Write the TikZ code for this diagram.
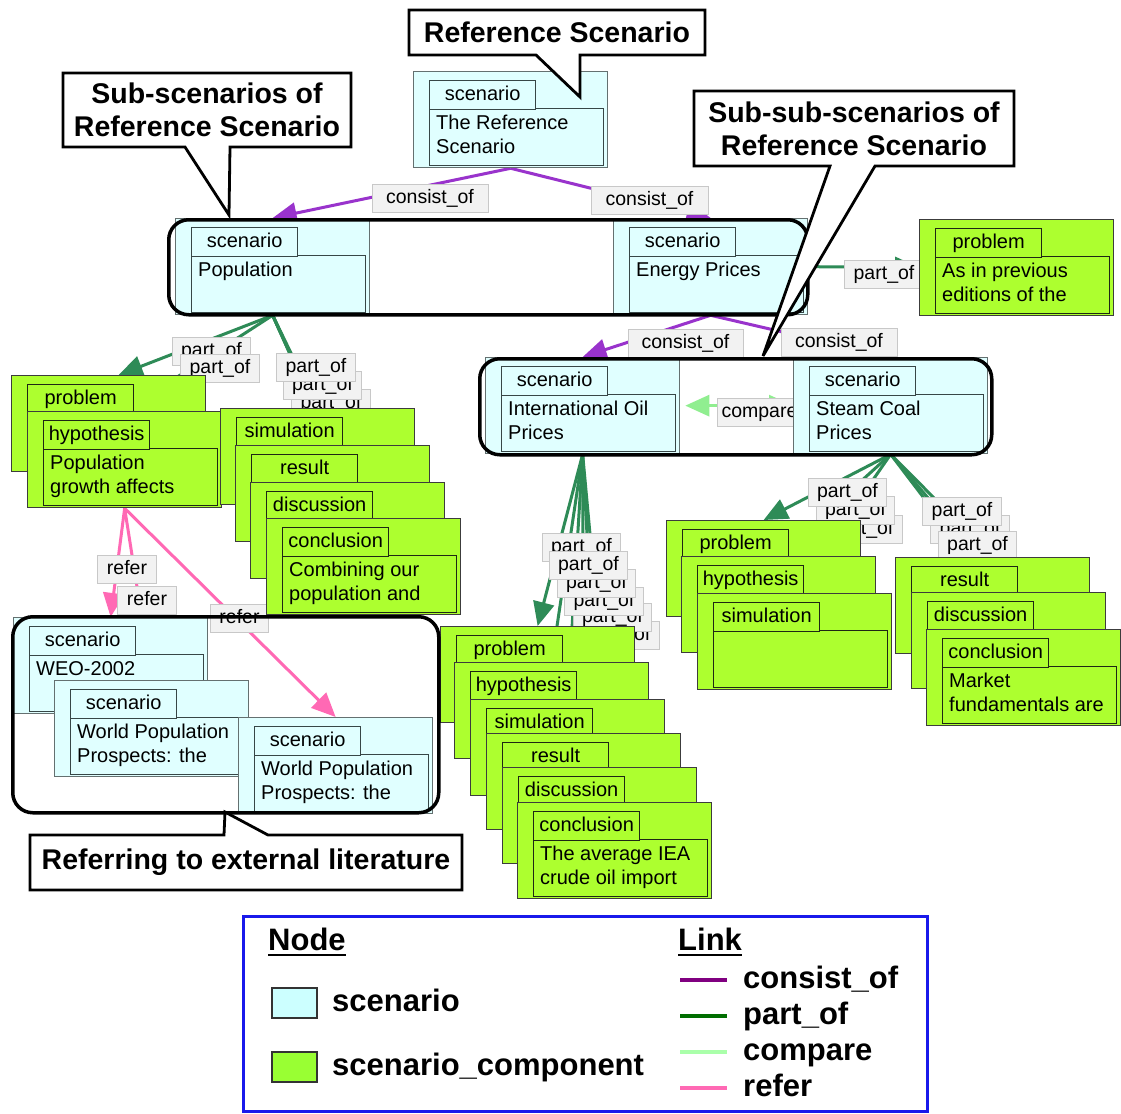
\documentclass[tikz,border=0pt]{standalone}
\usepackage{fontspec}
\setmainfont{Liberation Sans}
\usetikzlibrary{arrows.meta,calc}
\pgfdeclarelayer{bg}
\pgfdeclarelayer{edges}
\pgfdeclarelayer{labels}
\pgfsetlayers{bg,edges,labels,main}

\definecolor{scencol}{RGB}{224,255,255}
\definecolor{compcol}{RGB}{173,255,47}
\definecolor{scenout}{RGB}{100,112,112}
\definecolor{scenincol}{RGB}{55,70,70}
\definecolor{compout}{RGB}{60,60,60}
\definecolor{compincol}{RGB}{30,40,20}
\definecolor{conscol}{RGB}{153,51,204}
\definecolor{partcol}{RGB}{46,139,87}
\definecolor{cmpcol}{RGB}{144,238,144}
\definecolor{refcol}{RGB}{255,105,180}
\definecolor{labfill}{RGB}{242,242,242}
\definecolor{labdraw}{RGB}{200,200,200}
\definecolor{legblue}{RGB}{25,25,235}
\definecolor{legcons}{RGB}{128,0,128}
\definecolor{legpart}{RGB}{0,110,0}
\definecolor{legcmp}{RGB}{170,255,170}
\definecolor{legscen}{RGB}{204,255,255}
\definecolor{legcomp}{RGB}{153,255,51}

\newcommand\nfont{\fontsize{20}{24}\selectfont}
\newcommand\lfont{\fontsize{19.5}{23}\selectfont}
\newcommand\cofont{\fontsize{28.5}{33}\selectfont\bfseries}
\newcommand\lgfont{\fontsize{31}{34}\selectfont\bfseries}

\tikzset{
  scen/.style={fill=scencol, draw=scenout},
  scenin/.style={fill=scencol, draw=scenincol},
  comp/.style={fill=compcol, draw=compout},
  compin/.style={fill=compcol, draw=compincol},
  outerbox/.style={rectangle, inner sep=0pt, line width=1.3pt, minimum width=194pt, minimum height=96pt, anchor=north west},
  contbox/.style={rectangle, inner sep=0pt, line width=1.3pt, minimum width=174pt, minimum height=57pt, anchor=north west},
  tabbox/.style={rectangle, inner sep=0pt, line width=1.3pt, minimum width=106pt, minimum height=29pt, anchor=north west, font=\nfont, text height=14pt, text depth=4pt},
  ctext/.style={inner sep=0pt, anchor=north west, align=left, font=\nfont},
  lab/.style={rectangle, fill=labfill, draw=labdraw, line width=1pt, inner xsep=9pt, inner ysep=0pt, minimum height=28pt, text height=14pt, text depth=4pt, font=\lfont},
  lnk/.style={line width=3pt},
  cons/.style={lnk, draw=conscol},
  partl/.style={lnk, draw=partcol},
  cmpl/.style={lnk, draw=cmpcol},
  refr/.style={lnk, draw=refcol},
  arw/.style={-{Triangle[length=24pt,width=21pt]}},
  grp/.style={rectangle, draw=black, line width=3.5pt, rounded corners=20pt, inner sep=0pt, anchor=north west},
  cobox/.style={fill=white, draw=black, line width=2.8pt},
  cotext/.style={inner sep=0pt, align=center, font=\cofont},
  legtxt/.style={inner sep=0pt, anchor=base west, font=\lgfont},
  legsq/.style={rectangle, draw=black!80, line width=1.5pt, minimum width=45pt, minimum height=30pt, inner sep=0pt, anchor=north west},
  legln/.style={line width=3.5pt},
}

% name, x, y, style (scen/comp), tab text, content text
\newcommand\gnode[6]{%
  \node[outerbox,#4] (#1) at (#2,#3) {};
  \node[contbox,#4in] (#1c) at ({#2+16},{#3+37}) {};
  \node[tabbox,#4in] (#1t) at ({#2+16},{#3+9}) {#5};
  \node[ctext] (#1x) at ({#2+23},{#3+43}) {\rule{0pt}{15pt}#6};
}

\begin{document}
\begin{tikzpicture}[x=1pt,y=-1pt]
\useasboundingbox (0,0) rectangle (1121,1113);
\begin{pgfonlayer}{bg}
\fill[white] (0,0) rectangle (1121,1113);
\end{pgfonlayer}

% ---------------- nodes ----------------
\gnode{ref}{413}{71}{scen}{scenario}{The Reference\\Scenario}
\gnode{pop}{175}{218}{scen}{scenario}{Population}
\gnode{energy}{613}{218}{scen}{scenario}{Energy Prices}
\gnode{trp}{919}{219}{comp}{problem}{As in previous\\editions of the}

\gnode{lprob}{11}{375}{comp}{problem}{}
\gnode{lhyp}{27}{411}{comp}{hypothesis}{Population\\growth affects}
\gnode{psim}{220}{408}{comp}{simulation}{}
\gnode{pres}{235}{445}{comp}{result}{}
\gnode{pdis}{250}{482}{comp}{discussion}{}
\gnode{pcon}{266}{518}{comp}{conclusion}{Combining our\\population and}

\gnode{oil}{485}{357}{scen}{scenario}{International Oil\\Prices}
\gnode{steam}{793}{357}{scen}{scenario}{Steam Coal\\Prices}

\gnode{mprob}{440}{626}{comp}{problem}{}
\gnode{mhyp}{454}{662}{comp}{hypothesis}{}
\gnode{msim}{470}{699}{comp}{simulation}{}
\gnode{mres}{486}{733}{comp}{result}{}
\gnode{mdis}{502}{767}{comp}{discussion}{}
\gnode{mcon}{517}{802}{comp}{conclusion}{The average IEA\\crude oil import}

\gnode{rprob}{666}{520}{comp}{problem}{}
\gnode{rhyp}{681}{556}{comp}{hypothesis}{}
\gnode{rsim}{697}{593}{comp}{simulation}{}
\gnode{sres}{895}{557}{comp}{result}{}
\gnode{sdis}{911}{592}{comp}{discussion}{}
\gnode{scon}{926}{629}{comp}{conclusion}{Market\\fundamentals are}

\gnode{weo}{13}{617}{scen}{scenario}{WEO-2002}
\gnode{wpp1}{54}{680}{scen}{scenario}{World Population\\Prospects: the}
\gnode{wpp2}{238}{717}{scen}{scenario}{World Population\\Prospects: the}

% ---------------- group boxes ----------------
\node[grp, minimum width=639pt, minimum height=95pt] (g1) at (167,218) {};
\node[grp, minimum width=512pt, minimum height=96pt] (g2) at (478,357) {};
\node[grp, minimum width=426pt, minimum height=196pt] (g3) at (11,615) {};

% ---------------- connectors ----------------
\begin{pgfonlayer}{edges}
\draw[cons,arw] (ref.south) -- (pop.north);
\draw[cons,arw] (ref.south) -- (energy.north);
\draw[partl,arw] (energy.east) -- (trp.west);
\draw[partl,arw] (pop.south) -- ([xshift=10pt]lprob.north);
\foreach \t in {lhyp,psim,pres,pdis,pcon} \draw[partl,arw] (pop.south) -- (\t.north);
\draw[cons,arw] (energy.south) -- (oil.north);
\draw[cons,arw] (energy.south) -- (steam.north);
\draw[cmpl,{Triangle[length=24pt,width=21pt]}-{Triangle[length=24pt,width=21pt]}] ([xshift=5pt]oil.east |- steam.west) -- (steam.west);
\foreach \t in {mprob,mhyp,msim,mres,mdis,mcon} \draw[partl,arw] (oil.south) -- (\t.north);
\foreach \t in {rprob,rhyp,rsim,sres,sdis,scon} \draw[partl,arw] (steam.south) -- (\t.north);
\draw[refr,arw] (lhyp.south) -- (weo.north);
\draw[refr,arw] (lhyp.south) -- (wpp1.north);
\draw[refr,arw] (lhyp.south) -- (wpp2.north);
\end{pgfonlayer}

% ---------------- connector labels ----------------
\begin{pgfonlayer}{labels}
\node[lab, minimum width=116pt] (lc1) at (430,198.5) {consist\_of};
\node[lab, minimum width=117pt] (lc2) at (649.5,200) {consist\_of};
\node[lab] (lp0) at (884,274) {part\_of};
\node[lab] (lp1) at (211.5,351) {part\_of};
\node[lab] (lp2) at (220,368.5) {part\_of};
\node[lab] (lp5) at (331,403) {part\_of};
\node[lab] (lp4) at (322.5,385) {part\_of};
\node[lab] (lp3) at (316,367.5) {part\_of};
\node[lab, minimum width=115pt] (lc3) at (685.5,343) {consist\_of};
\node[lab, minimum width=116pt] (lc4) at (839,342.5) {consist\_of};
\node[lab, inner xsep=4pt, anchor=west] (lcmp) at (717,412) {compare};
\node[lab] (lm1) at (581.5,547.5) {part\_of};
\node[lab] (lm6) at (620,635) {part\_of};
\node[lab] (lm5) at (612.5,617.5) {part\_of};
\node[lab] (lm4) at (604,601) {part\_of};
\node[lab] (lm3) at (596.5,583) {part\_of};
\node[lab] (lm2) at (588.5,565) {part\_of};
\node[lab] (ls3) at (863,529) {part\_of};
\node[lab] (ls2) at (855.5,510) {part\_of};
\node[lab] (ls1) at (847.5,492.5) {part\_of};
\node[lab] (lt2) at (970,529) {part\_of};
\node[lab] (lt1) at (962,511) {part\_of};
\node[lab] (lt3) at (977.5,545) {part\_of};
\node[lab] (lr1) at (127,569) {refer};
\node[lab] (lr2) at (147,600) {refer};
\node[lab] (lr3) at (239.5,618.5) {refer};
\end{pgfonlayer}

% ---------------- callouts ----------------
\filldraw[cobox] (409,10) -- (705,10) -- (705,55) -- (580,55) -- (580,97) -- (536,55) -- (409,55) -- cycle;
\node[cotext] (ca) at (557,32.5) {Reference Scenario};
\filldraw[cobox] (63,73) -- (351,73) -- (351,147) -- (230,147) -- (229,215) -- (185,147) -- (63,147) -- cycle;
\node[cotext] (cb) at (207,110) {Sub-scenarios of\\Reference Scenario};
\filldraw[cobox] (694,91) -- (1014,91) -- (1014,166) -- (875,166) -- (763,356) -- (830,166) -- (694,166) -- cycle;
\node[cotext] (cc) at (854,128.5) {Sub-sub-scenarios of\\Reference Scenario};
\filldraw[cobox] (30,890) -- (30,835) -- (224,835) -- (225,812) -- (268,835) -- (462,835) -- (462,890) -- cycle;
\node[cotext] (cd) at (246,862.5) {Referring to external literature};

% ---------------- legend ----------------
\node[draw=legblue, line width=3pt, inner sep=0pt, minimum width=684pt, minimum height=195pt, anchor=north west] (leg) at (242,915) {};
\node[legtxt] (legnode) at (268,950) {Node};
\draw[line width=2.5pt] ([yshift=-5pt]legnode.base west) -- ([yshift=-5pt]legnode.base east);
\node[legsq, fill=legscen] (legsq1) at (271,987) {};
\node[legtxt] (legs1) at (332,1011) {scenario};
\node[legsq, fill=legcomp] (legsq2) at (271,1051) {};
\node[legtxt] (legs2) at (332,1075) {scenario\_component};
\node[legtxt] (leglink) at (678,950) {Link};
\draw[line width=2.5pt] ([yshift=-5pt]leglink.base west) -- ([yshift=-5pt]leglink.base east);
\coordinate (k1a) at (680,980); \coordinate (k1b) at (727,980);
\coordinate (k2a) at (680,1016); \coordinate (k2b) at (727,1016);
\coordinate (k3a) at (680,1052); \coordinate (k3b) at (727,1052);
\coordinate (k4a) at (680,1088); \coordinate (k4b) at (727,1088);
\draw[legln, legcons] (k1a) -- (k1b);
\draw[legln, legpart] (k2a) -- (k2b);
\draw[legln, legcmp] (k3a) -- (k3b);
\draw[legln, refcol] (k4a) -- (k4b);
\node[legtxt] (lk1) at (743,988.5) {consist\_of};
\node[legtxt] (lk2) at (743,1024.5) {part\_of};
\node[legtxt] (lk3) at (743,1060.5) {compare};
\node[legtxt] (lk4) at (743,1096.5) {refer};
\end{tikzpicture}
\end{document}
